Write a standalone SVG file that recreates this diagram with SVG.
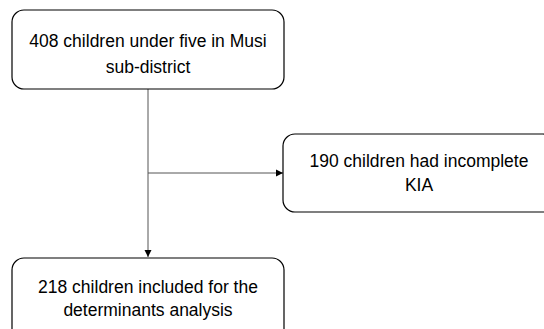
<svg xmlns="http://www.w3.org/2000/svg" width="544" height="329" viewBox="0 0 544 329">
<style>
.box{fill:#fff;stroke:#000;stroke-width:1.2}
.lbl{font-family:"Liberation Sans",Arial,sans-serif;font-size:17.5px;fill:#000;text-anchor:middle}
.con{stroke:#555;stroke-width:1;fill:none}
</style>
<defs>
<marker id="arr" markerWidth="8" markerHeight="8" refX="7" refY="4" orient="auto" markerUnits="userSpaceOnUse">
<path d="M0,0.5 L7,4 L0,7.5 Z" fill="#000"/>
</marker>
</defs>
<rect width="544" height="329" fill="#fff"/>
<g id="connectors">
<line class="con" x1="148" y1="89" x2="148" y2="257" marker-end="url(#arr)"/>
<line class="con" x1="148" y1="173" x2="283" y2="173" marker-end="url(#arr)"/>
</g>
<g id="node-top">
<rect class="box" x="12" y="10" width="272" height="79" rx="12"/>
<text class="lbl" x="148" y="47">408 children under five in Musi</text>
<text class="lbl" x="148" y="73">sub-district</text>
</g>
<g id="node-excluded">
<rect class="box" x="283" y="134" width="272" height="78" rx="12"/>
<text class="lbl" x="419" y="167">190 children had incomplete</text>
<text class="lbl" x="419" y="191">KIA</text>
</g>
<g id="node-included">
<rect class="box" x="12" y="258" width="272" height="90" rx="12"/>
<text class="lbl" x="148" y="293">218 children included for the</text>
<text class="lbl" x="148" y="316">determinants analysis</text>
</g>
</svg>
